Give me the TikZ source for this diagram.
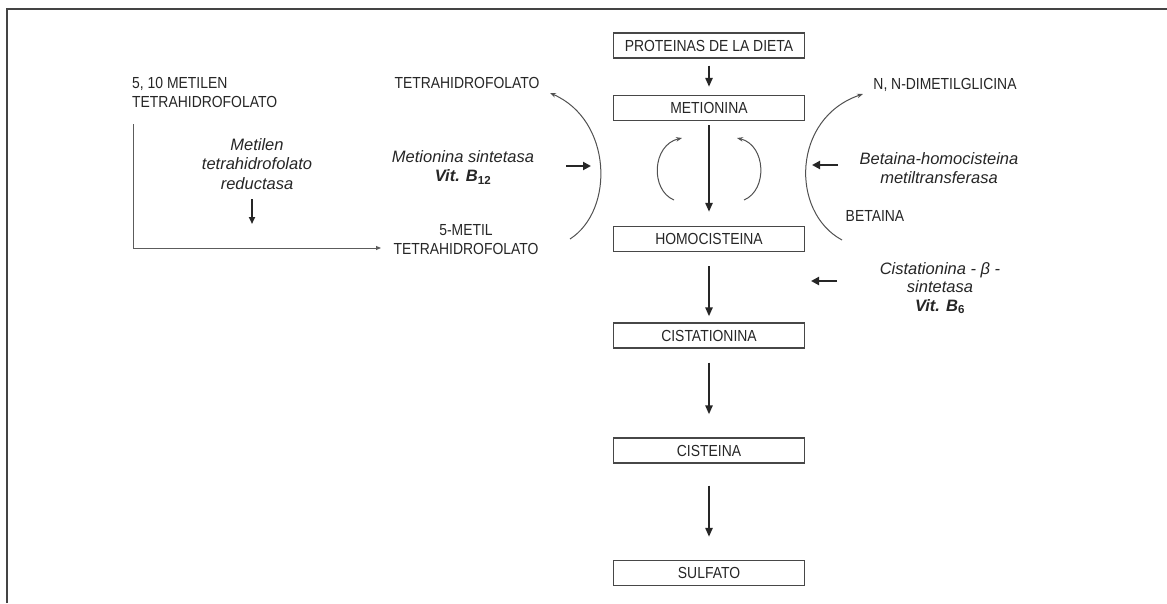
\documentclass[tikz,border=0pt]{standalone}
\usepackage{fontspec}
\setmainfont{Liberation Sans}
\newfontfamily\capsfont[FakeStretch=0.87]{Liberation Sans}
\usetikzlibrary{arrows.meta}
\definecolor{ink}{HTML}{262626}
\definecolor{frame}{HTML}{444444}
\tikzset{
  capsf/.style={inner sep=0pt, text=ink, font=\capsfont\fontsize{16}{19}\selectfont, align=center},
  itf/.style={inner sep=0pt, text=ink, font=\fontsize{16.5}{19.5}\selectfont\itshape, align=center},
  boxnode/.style={draw=ink!85, line width=1.2pt, minimum width=191pt, minimum height=25pt,
     inner sep=0pt, text=ink, font=\capsfont\fontsize{16}{17}\selectfont},
  mainarrow/.style={draw=ink, line width=2.2pt, -{Triangle[length=9pt,width=7pt]}},
  shortarrow/.style={draw=ink, line width=2.6pt, -{Triangle[length=8pt,width=8pt]}},
  thinarc/.style={draw=ink!80, line width=1pt, -{Stealth[length=6pt,width=4.5pt]}},
  thinline/.style={draw=ink!75, line width=0.9pt},
}
\begin{document}
\begin{tikzpicture}[x=1pt,y=-1pt]
\useasboundingbox (0,0) rectangle (1167,603);
\fill[white] (0,0) rectangle (1167,603);
% frame
\draw[frame, line width=2pt] (7,603) -- (7,9) -- (1167,9);

% boxes
\node[boxnode] (prot) at (709,45.5) {PROTEINAS DE LA DIETA};
\node[boxnode] (met)  at (709,108) {METIONINA};
\node[boxnode] (homo) at (709,239) {HOMOCISTEINA};
\node[boxnode] (cist) at (709,335.5) {CISTATIONINA};
\node[boxnode] (ciste) at (709,450.5) {CISTEINA};
\node[boxnode] (sulf) at (709,573) {SULFATO};

% main arrows
\draw[mainarrow, shorten <=7pt, shorten >=8pt] (prot) -- (met);
\draw[mainarrow, shorten <=4pt, shorten >=14pt] (met) -- (homo);
\draw[mainarrow, shorten <=14pt, shorten >=6pt] (homo) -- (cist);
\draw[mainarrow, shorten <=14pt, shorten >=23pt] (cist) -- (ciste);
\draw[mainarrow, shorten <=22pt, shorten >=23pt] (ciste) -- (sulf);

% left text
\node[capsf, align=left, anchor=north west] (n510) at (132,77) {5, 10 METILEN\\TETRAHIDROFOLATO};
\node[itf, anchor=north] (mtr) at (257,138) {Metilen\\tetrahidrofolato\\reductasa};
\coordinate (mtrA) at (252,199);
\coordinate (mtrB) at (252,224);
\draw[draw=ink, line width=2pt, -{Triangle[length=7pt,width=6pt]}] (mtrA) -- (mtrB);

\node[capsf] (thf) at (467,83) {TETRAHIDROFOLATO};
\node[itf, anchor=north] (ms) at (463,150) {Metionina sintetasa\\{\bfseries Vit. B$_{\mathbf{12}}$}};
\node[capsf, anchor=north] (fm) at (466,224) {5-METIL\\TETRAHIDROFOLATO};

% folate line
\coordinate (fl1) at (133,124);
\coordinate (fl2) at (381,248);
\draw[thinline, -{Triangle[length=5pt,width=4pt]}] (fl1) |- (fl2);

% right text
\node[capsf] (dmg) at (945,85) {N, N-DIMETILGLICINA};
\node[itf, anchor=north] (bhm) at (939,152) {Betaina-homocisteina\\metiltransferasa};
\node[capsf] (bet) at (875,216) {BETAINA};
\node[itf, anchor=north, font=\fontsize{16.5}{18.5}\selectfont\itshape] (cbs) at (940,262) {Cistationina - β -\\sintetasa\\{\bfseries Vit. B$_{\mathbf{6}}$}};

% short arrows
\coordinate (msA) at (566,166);
\coordinate (msB) at (591,166);
\draw[shortarrow] (msA) -- (msB);
\coordinate (bhA) at (838,165);
\coordinate (bhB) at (812,165);
\draw[shortarrow] (bhA) -- (bhB);
\coordinate (cbA) at (837,281);
\coordinate (cbB) at (811,281);
\draw[shortarrow] (cbA) -- (cbB);

% big arcs
\coordinate (la1) at (570,239);
\coordinate (la2) at (550,93);
\draw[thinarc] (la1) .. controls (615,210) and (612,120) .. (la2);
\coordinate (ra1) at (842,240);
\coordinate (ra2) at (863,94);
\draw[thinarc] (ra1) .. controls (790,212) and (792,118) .. (ra2);

% small arcs
\coordinate (sl1) at (674,200);
\coordinate (sl2) at (682,138);
\draw[thinarc] (sl1) .. controls (650,190) and (652,145) .. (sl2);
\coordinate (sr1) at (744,200);
\coordinate (sr2) at (737,138);
\draw[thinarc] (sr1) .. controls (768,190) and (766,145) .. (sr2);
\end{tikzpicture}
\end{document}
